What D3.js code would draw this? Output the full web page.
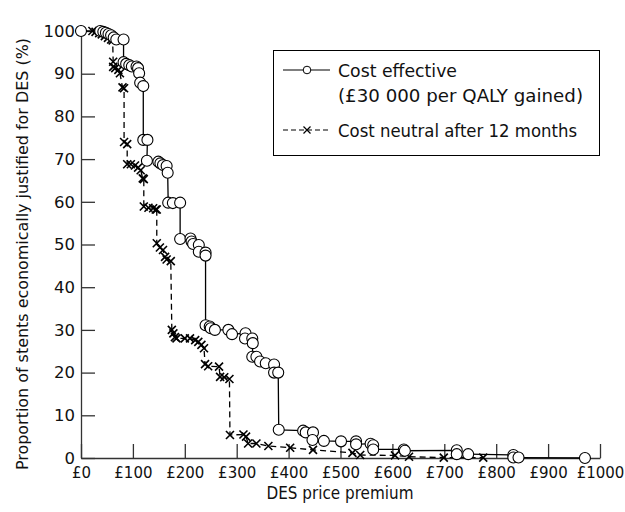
<!DOCTYPE html>
<html><head><meta charset="utf-8">
<script src="https://cdn.jsdelivr.net/npm/d3@7"></script>
<style>body{margin:0;background:#fff}svg{display:block}text{font-family:"DejaVu Sans",sans-serif;fill:#111}</style>
</head><body>
<script>
const xTicks = [0,100,200,300,400,500,600,700,800,900,1000];
const xTickLabels = ["£0","£100","£200","£300","£400","£500","£600","£700","£800","£900","£1000"];
const yTicks = [0,10,20,30,40,50,60,70,80,90,100];
const xTitle = "DES price premium";
const yTitle = "Proportion of stents economically justified for DES (%)";
const seriesNames = ["Cost effective", "(£30 000 per QALY gained)", "Cost neutral after 12 months"];

const costEffective = [
 [0,100],[37,100],[43,99.8],[48,99.6],[53,99.3],[58,99],[63,98.5],[68,98],[82,98],
 [82,92.7],[87,92.3],[93,92],[98,91.7],[107,91.7],[110,91.3],[112,90.1],[114,87.9],[120,87.1],
 [120,74.5],[128,74.5],[127,69.6],[149,69.4],[153,69],[158,68.6],[165,68.4],[167,66.8],
 [168,59.8],[177,59.7],[191,59.8],
 [191,51.3],[211,51.4],[213,50.7],[216,50.1],[227,49.9],[227,48.3],[240,48.1],[240,47.4],
 [240,31.1],[248,30.8],[250,30.4],[258,30],[284,30],[291,29],[317,29.2],[316,28],[330,28],[331,26.9],
 [330,23.7],[338,23.7],[345,22.6],[356,22.2],[372,21.9],[372,20],[380,20],
 [381,6.6],[428,6.4],[433,6],[447,6],[446,4.2],[468,4],[501,3.9],[530,3.9],[530,3.2],[558,3.35],[563,3],
 [563,2],[622,2],[624,1.7],[724,1.8],[724,0.9],[746,0.9],[833,0.7],[833,0.1],[843,0.1],[971,0]
];

const costNeutral = [
 [0,100],[22,100],[28,99.8],[35,99.5],[40,99.2],[46,98.8],[52,98.4],[58,98],[61,97.8],
 [62,92.8],[62,91.6],[66,91.3],[72,90.9],[75,90.1],[80,86.8],[83,86.6],
 [83,74],[89,73.5],[89,68.8],[96,68.8],[104,68.5],[110,68],[115,67.4],[119,65.5],[121,65.3],
 [121,58.9],[130,58.6],[139,58.5],[144,58.2],[146,58.2],
 [146,50.3],[152,49.3],[158,48.7],[162,47.1],[165,46.5],[173,46.1],
 [175,30],[178,29.2],[181,28.3],[184,28],[200,28],[210,28],[220,27.6],[226,27.2],[232,26.5],[237,25.7],
 [239,22],[245,21.5],[266,21.4],[268,19],[276,18.9],[286,18.5],
 [287,5.4],[313,5.5],[318,5],[322,3.4],[338,3.4],[361,2.8],[403,2.4],[447,1.9],[523,1.2],[538,0.7],
 [605,0.6],[632,0.3],[699,0.1],[775,0.1]
];

const W = 625, H = 512;
const svg = d3.select("body").append("svg").attr("width", W).attr("height", H);
const x = d3.scaleLinear().domain([0,1000]).range([81,600]);
const y = d3.scaleLinear().domain([0,100]).range([458,31]);

// axes
const gx = svg.append("g").attr("transform", `translate(0,${y(0)})`)
  .call(d3.axisBottom(x).tickValues(xTicks).tickFormat((d,i)=>xTickLabels[i]).tickSizeInner(-14).tickSizeOuter(0).tickPadding(9));
const gy = svg.append("g").attr("transform", `translate(${x(0)},0)`)
  .call(d3.axisLeft(y).tickValues(yTicks).tickSizeInner(-14).tickSizeOuter(0).tickPadding(6));
[gx, gy].forEach(g => {
  g.selectAll("path.domain").attr("stroke", "#333").attr("stroke-width", 1.3);
  g.selectAll(".tick line").attr("stroke", "#333").attr("stroke-width", 1.3);
  g.selectAll(".tick text").style("font-family", '"DejaVu Sans",sans-serif').attr("fill", "#111");
});
gy.selectAll(".tick text").style("font-size", "16.5px");
gx.selectAll(".tick text").style("font-size", "15px");

svg.append("text").attr("x", 340).attr("y", 499).attr("text-anchor", "middle").style("font-size", "18px")
  .attr("textLength", 147).attr("lengthAdjust", "spacingAndGlyphs").text(xTitle);
svg.append("text").attr("transform", `translate(28,254) rotate(-90)`).attr("text-anchor", "middle").style("font-size", "15.8px")
  .attr("textLength", 432).attr("lengthAdjust", "spacingAndGlyphs").text(yTitle);

const line = d3.line().x(d => x(d[0])).y(d => y(d[1]));

svg.append("path").datum(costNeutral).attr("d", line).attr("fill", "none").attr("stroke", "#000").attr("stroke-width", 1.3).attr("stroke-dasharray", "6,4");
svg.append("path").datum(costEffective).attr("d", line).attr("fill", "none").attr("stroke", "#000").attr("stroke-width", 1.3);

const crossPath = s => `M${-s},${-s}L${s},${s}M${-s},${s}L${s},${-s}`;
svg.append("g").selectAll("path").data(costNeutral).join("path")
  .attr("transform", d => `translate(${x(d[0])},${y(d[1])})`)
  .attr("d", crossPath(4)).attr("stroke", "#000").attr("stroke-width", 1.6).attr("fill", "none");
svg.append("g").selectAll("circle").data(costEffective).join("circle")
  .attr("cx", d => x(d[0])).attr("cy", d => y(d[1])).attr("r", 5.5)
  .attr("fill", "#fff").attr("stroke", "#000").attr("stroke-width", 1.1);

// legend
const lg = svg.append("g");
lg.append("rect").attr("x", 273.5).attr("y", 50.5).attr("width", 326).attr("height", 105).attr("fill", "#fff").attr("stroke", "#000").attr("stroke-width", 1);
lg.append("line").attr("x1", 283).attr("x2", 330).attr("y1", 70).attr("y2", 70).attr("stroke", "#000").attr("stroke-width", 1.2);
lg.append("circle").attr("cx", 307).attr("cy", 70).attr("r", 3.8).attr("fill", "#fff").attr("stroke", "#000").attr("stroke-width", 1);
lg.append("line").attr("x1", 283).attr("x2", 330).attr("y1", 130).attr("y2", 130).attr("stroke", "#000").attr("stroke-width", 1.2).attr("stroke-dasharray", "5,3");
lg.append("path").attr("transform", "translate(307,130)").attr("d", crossPath(3.5)).attr("stroke", "#000").attr("stroke-width", 1.2);
const legendText = [[seriesNames[0], 77, 119], [seriesNames[1], 102, 245], [seriesNames[2], 137, 239]];
legendText.forEach(([t, yy, len]) => {
  lg.append("text").attr("x", 338).attr("y", yy).style("font-size", "17px")
    .attr("textLength", len).attr("lengthAdjust", "spacingAndGlyphs").text(t);
});
</script>
</body></html>
